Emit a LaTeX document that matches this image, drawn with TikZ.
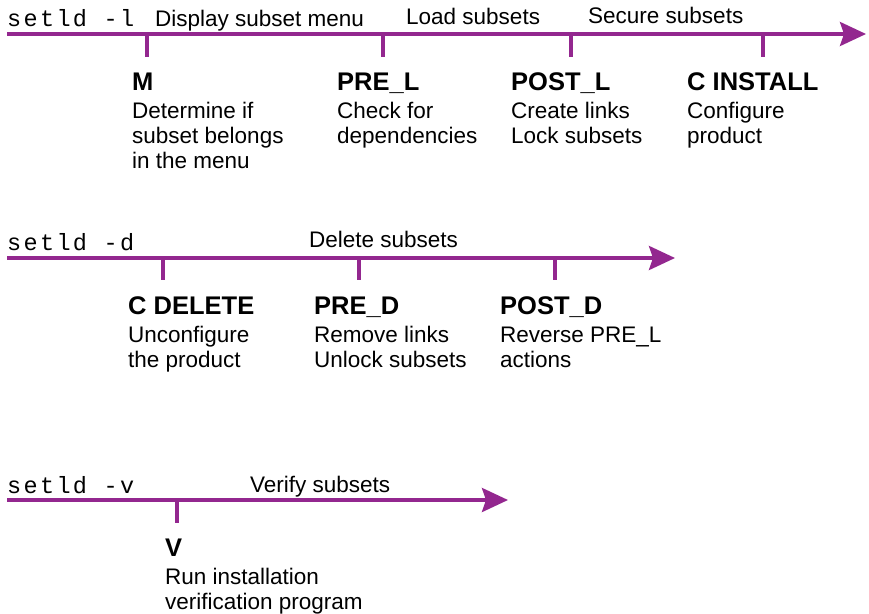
\documentclass[tikz,border=0pt]{standalone}
\usepackage{fontspec}
\setmainfont{Liberation Sans}
\setmonofont{Liberation Mono}[LetterSpace=10]
\usetikzlibrary{arrows.meta}
\definecolor{tlpurple}{RGB}{147,39,143}
\begin{document}
\begin{tikzpicture}[x=1pt,y=-1pt,
  timeline/.style={draw=tlpurple, line width=3.6pt, -{Stealth[length=26pt,width=24pt,inset=4pt]}},
  tickmark/.style={draw=tlpurple, line width=3.6pt},
  cmd/.style={anchor=base west, inner sep=0pt, font=\fontsize{23.5}{25}\selectfont\ttfamily},
  phase/.style={anchor=base west, inner sep=0pt, font=\fontsize{22.5}{25}\selectfont},
  steptitle/.style={anchor=base west, inner sep=0pt, font=\fontsize{25.5}{30}\selectfont\bfseries},
  desc/.style={anchor=base west, inner sep=0pt, font=\fontsize{22.5}{25}\selectfont}
]
\useasboundingbox (0,0) rectangle (869,613);

% ---------- setld -l ----------
\coordinate (l1s) at (7,34);
\coordinate (l1e) at (866,34);
\draw[timeline] (l1s) -- (l1e);
\foreach \n/\x in {a/147,b/383,c/571,d/763}{
  \coordinate (t1\n top) at (\x,34);
  \coordinate (t1\n bot) at (\x,57);
  \draw[tickmark] (t1\n top) -- (t1\n bot);
}
\node[cmd] (cmdl) at (7,26) {setld -l};
\node[phase] (ph1) at (155,26) {Display subset menu};
\node[phase] (ph2) at (406,24) {Load subsets};
\node[phase] (ph3) at (588,23) {Secure subsets};

\node[steptitle] (M) at (132,90) {M};
\node[desc] (Mdesc) at (132,118) {\begin{tabular}[t]{@{}l@{}}Determine if\\subset belongs\\in the menu\end{tabular}};
\node[steptitle] (PREL) at (337,90) {PRE\_L};
\node[desc] (PRELdesc) at (337,118) {\begin{tabular}[t]{@{}l@{}}Check for\\dependencies\end{tabular}};
\node[steptitle] (POSTL) at (511,90) {POST\_L};
\node[desc] (POSTLdesc) at (511,118) {\begin{tabular}[t]{@{}l@{}}Create links\\Lock subsets\end{tabular}};
\node[steptitle] (CINST) at (687,90) {C INSTALL};
\node[desc] (CINSTdesc) at (687,118) {\begin{tabular}[t]{@{}l@{}}Configure\\product\end{tabular}};

% ---------- setld -d ----------
\coordinate (l2s) at (7,258);
\coordinate (l2e) at (675,258);
\draw[timeline] (l2s) -- (l2e);
\foreach \n/\x in {a/163,b/359,c/555}{
  \coordinate (t2\n top) at (\x,258);
  \coordinate (t2\n bot) at (\x,280);
  \draw[tickmark] (t2\n top) -- (t2\n bot);
}
\node[cmd] (cmdd) at (7,250) {setld -d};
\node[phase] (ph4) at (309,247) {Delete subsets};

\node[steptitle] (CDEL) at (128,314) {C DELETE};
\node[desc] (CDELdesc) at (128,342) {\begin{tabular}[t]{@{}l@{}}Unconfigure\\the product\end{tabular}};
\node[steptitle] (PRED) at (314,314) {PRE\_D};
\node[desc] (PREDdesc) at (314,342) {\begin{tabular}[t]{@{}l@{}}Remove links\\Unlock subsets\end{tabular}};
\node[steptitle] (POSTD) at (500,314) {POST\_D};
\node[desc] (POSTDdesc) at (500,342) {\begin{tabular}[t]{@{}l@{}}Reverse PRE\_L\\actions\end{tabular}};

% ---------- setld -v ----------
\coordinate (l3s) at (7,500);
\coordinate (l3e) at (508,500);
\draw[timeline] (l3s) -- (l3e);
\coordinate (t3atop) at (177,500);
\coordinate (t3abot) at (177,523);
\draw[tickmark] (t3atop) -- (t3abot);
\node[cmd] (cmdv) at (7,493) {setld -v};
\node[phase] (ph5) at (250,492) {Verify subsets};

\node[steptitle] (V) at (165,556) {V};
\node[desc] (Vdesc) at (165,584) {\begin{tabular}[t]{@{}l@{}}Run installation\\verification program\end{tabular}};
\end{tikzpicture}
\end{document}
